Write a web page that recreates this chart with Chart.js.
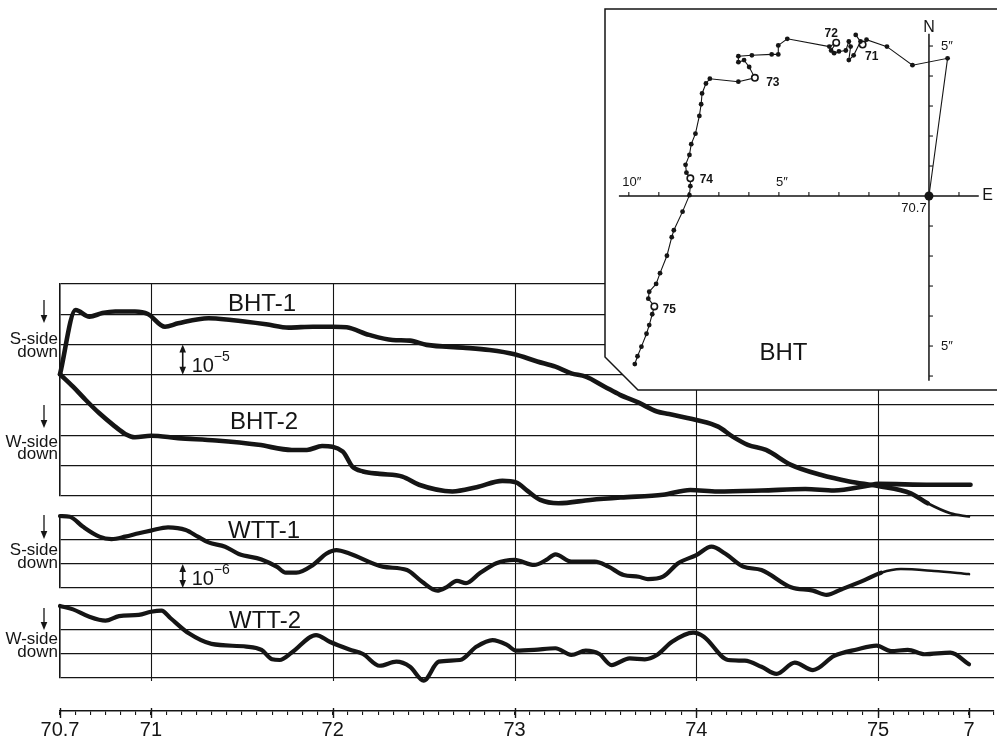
<!DOCTYPE html>
<html>
<head>
<meta charset="utf-8">
<title>BHT / WTT tilt records</title>
<script src="https://cdn.jsdelivr.net/npm/chart.js@4.4.0/dist/chart.umd.min.js"></script>
<style>
  html, body { margin: 0; padding: 0; background: #fff; }
  #wrap { position: relative; width: 997px; height: 745px; overflow: hidden; }
  #mainChart { position: absolute; left: 0; top: 0; }
  #insetChart { position: absolute; left: 600px; top: 0; }
</style>
</head>
<body>
<div id="wrap">
  <canvas id="mainChart" width="997" height="745"></canvas>
  <canvas id="insetChart" width="397" height="395"></canvas>
</div>
<script>
// Time axis: months after 70.7
const yearTickMonths = [0, 6, 18, 30, 42, 54, 60];
const yearTickLabels = ['70.7', '71', '72', '73', '74', '75', '7'];

// BHT-1 (grid divisions below top line, 1 div = 1e-5)
const bht1Months = [0, 1.03, 1.94, 2.8, 3.65, 4.95, 5.8, 6.93, 7.8, 9.8, 11.3, 13.6, 15.1, 16.7, 18, 18.92, 20.4, 21.95, 23.1, 24.2, 26.6, 28.35, 30, 31.5, 32.7, 33.75, 34.7, 35.95, 36.96, 38.2, 39.4, 40.2, 42, 43.44, 44.4, 45.4, 46.6, 48.25, 50.2, 52.1, 54, 56.16, 57.27, 58.77, 60];
const bht1Tilt = [2.98, 0.86, 1.08, 0.96, 0.91, 0.91, 0.99, 1.41, 1.30, 1.13, 1.19, 1.33, 1.44, 1.41, 1.41, 1.43, 1.68, 1.85, 1.87, 2.01, 2.10, 2.18, 2.32, 2.56, 2.73, 2.95, 3.06, 3.39, 3.66, 3.92, 4.21, 4.29, 4.49, 4.71, 5.04, 5.31, 5.48, 5.97, 6.30, 6.52, 6.67, 6.91, 7.24, 7.57, 7.68];

// BHT-2
const bht2Months = [0, 0.86, 1.7, 2.6, 3.5, 4.3, 4.95, 6, 7.8, 10.3, 13.1, 15.3, 16.3, 17.3, 18.66, 19.3, 20, 21.1, 22.6, 23.7, 25.9, 27.5, 29.2, 30.1, 30.9, 31.7, 32.9, 35, 37, 39.8, 41.6, 43.4, 46.3, 49.2, 51.1, 53.3, 54, 57.5, 60.1];
const bht2Tilt = [2.98, 3.39, 3.83, 4.27, 4.65, 4.95, 5.06, 5.01, 5.09, 5.17, 5.31, 5.48, 5.48, 5.35, 5.53, 6.03, 6.19, 6.27, 6.36, 6.63, 6.85, 6.71, 6.50, 6.55, 6.85, 7.13, 7.24, 7.13, 7.05, 6.96, 6.80, 6.85, 6.82, 6.77, 6.82, 6.66, 6.60, 6.63, 6.63];

// WTT-1 (1 div = 1e-6)
const wtt1Months = [0, 0.65, 1.5, 2.6, 3.4, 4.3, 5.2, 6, 7.13, 8.3, 9.1, 9.8, 10.9, 11.8, 13.3, 14.3, 14.9, 15.6, 16.7, 17.6, 18.25, 19.1, 21.3, 22.9, 23.9, 24.9, 25.5, 26.2, 26.8, 27.7, 28.8, 30, 31.3, 32.1, 32.7, 33.75, 35.3, 36.2, 37.2, 38.2, 38.8, 39.8, 40.8, 42, 43, 43.9, 45.1, 46.3, 48.25, 49.7, 50.6, 51.6, 53.1, 54.2, 55.5, 57.7, 60];
const wtt1Tilt = [0, 0.03, 0.44, 0.86, 0.96, 0.86, 0.72, 0.61, 0.47, 0.58, 0.86, 1.10, 1.28, 1.58, 1.81, 2.11, 2.36, 2.36, 2.04, 1.56, 1.42, 1.56, 2.11, 2.25, 2.74, 3.11, 2.97, 2.70, 2.80, 2.39, 1.97, 1.83, 2.04, 1.83, 1.60, 1.90, 1.90, 2.11, 2.46, 2.53, 2.63, 2.53, 1.97, 1.63, 1.28, 1.56, 2.11, 2.25, 2.97, 3.11, 3.29, 3.05, 2.67, 2.36, 2.21, 2.29, 2.42];

// WTT-2
const wtt2Months = [0, 0.86, 1.9, 3, 3.9, 5.2, 6, 6.7, 7.3, 8.5, 10, 12.3, 13.3, 14, 14.5, 15.3, 16.9, 17.8, 19.1, 20, 21.1, 22.2, 23.1, 24, 25, 26.4, 27.5, 28.55, 29.5, 30.1, 31.3, 32.7, 33.75, 34.7, 35.6, 36.4, 37.6, 38.6, 39.4, 40.4, 41.8, 42.5, 44.1, 45.2, 46.3, 47.3, 48.5, 49.7, 51.1, 52.6, 53.9, 54.85, 55.96, 57.07, 58.77, 60];
const wtt2Tilt = [0, 0.14, 0.44, 0.61, 0.42, 0.37, 0.24, 0.19, 0.51, 1.14, 1.58, 1.69, 1.83, 2.22, 2.25, 1.94, 1.21, 1.49, 1.81, 2.0, 2.49, 2.32, 2.53, 3.11, 2.32, 2.25, 1.69, 1.42, 1.62, 1.86, 1.83, 1.76, 2.04, 1.86, 2.0, 2.46, 2.18, 2.22, 2.04, 1.49, 1.11, 1.28, 2.25, 2.28, 2.53, 2.83, 2.36, 2.67, 2.08, 1.81, 1.65, 1.88, 1.83, 2.01, 1.94, 2.43];

// BHT tilt vector path (arcsec, east / north)
const tiltEast = [0, 0.62, -0.55, -1.40, -2.08, -2.21, -2.44, -2.28, -2.51, -2.67, -2.61, -2.67, -2.77, -3.00, -3.16, -3.26, -3.09, -3.32, -4.72, -5.02, -5.02, -5.24, -5.90, -6.35, -6.35, -6.16, -5.99, -5.80, -6.35, -7.30, -7.43, -7.56, -7.59, -7.65, -7.78, -7.92, -7.98, -8.11, -8.08, -7.95, -7.95, -7.98, -8.21, -8.50, -8.57, -8.73, -8.96, -9.09, -9.32, -9.35, -9.15, -9.22, -9.32, -9.41, -9.58, -9.71, -9.80];
const tiltNorth = [0, 4.59, 4.36, 4.98, 5.21, 5.05, 5.37, 5.15, 4.69, 4.53, 4.98, 5.15, 4.85, 4.82, 4.76, 4.85, 5.11, 4.98, 5.24, 5.02, 4.72, 4.72, 4.69, 4.66, 4.46, 4.53, 4.30, 3.94, 3.81, 3.91, 3.75, 3.42, 3.06, 2.67, 2.08, 1.73, 1.37, 1.04, 0.78, 0.59, 0.33, 0.03, -0.52, -1.14, -1.37, -1.99, -2.57, -2.93, -3.19, -3.42, -3.68, -3.94, -4.30, -4.59, -5.02, -5.34, -5.60];
const yearMarkIndex = [5, 16, 27, 39, 50];
const yearMarkLabels = ['71', '72', '73', '74', '75'];

const FONT = "'Liberation Sans', Arial, sans-serif";
const ink = '#151515';

function toPoints(xs, ys) {
    return xs.map((x, i) => ({ x: x, y: ys[i] }));
}

function arrowHead(ctx, x, y, dir) {
    // dir 1 points down, -1 points up
    ctx.beginPath();
    ctx.moveTo(x, y);
    ctx.lineTo(x - 3.3, y - 8 * dir);
    ctx.lineTo(x + 3.3, y - 8 * dir);
    ctx.closePath();
    ctx.fill();
}

// Main chart decorations
const panelTitles = [
    { text: 'BHT-1', x: 262, y: 304 },
    { text: 'BHT-2', x: 264, y: 422 },
    { text: 'WTT-1', x: 264, y: 531 },
    { text: 'WTT-2', x: 265, y: 621 }
];
const sideLabels = [
    { a: 300, b: 323, t1: 'S-side', y1: 339, y2: 352 },
    { a: 405, b: 428, t1: 'W-side', y1: 442, y2: 454 },
    { a: 515, b: 539, t1: 'S-side', y1: 550, y2: 563 },
    { a: 608, b: 630, t1: 'W-side', y1: 639, y2: 652 }
];

const decoPlugin = {
    id: 'deco',
    beforeDatasetsDraw(chart) {
        const { ctx, scales } = chart;
        const top = scales.yB.top;
        const bottom = scales.yW2.bottom + 3;
        const axisY = scales.x.top;
        ctx.save();
        ctx.strokeStyle = ink;
        yearTickMonths.forEach(m => {
            const x = Math.round(scales.x.getPixelForValue(m)) + 0.5;
            if (m > 0 && m < 60) {
                ctx.lineWidth = 1.1;
                ctx.beginPath();
                ctx.moveTo(x, top);
                ctx.lineTo(x, bottom);
                ctx.stroke();
            }
            ctx.lineWidth = 1.4;
            ctx.beginPath();
            ctx.moveTo(x, axisY - 3);
            ctx.lineTo(x, axisY + 7);
            ctx.stroke();
        });
        ctx.restore();
    },
    afterDatasetsDraw(chart) {
        const { ctx, scales } = chart;
        ctx.save();
        ctx.fillStyle = ink;
        ctx.strokeStyle = ink;

        // panel titles
        ctx.font = '24px ' + FONT;
        ctx.textAlign = 'center';
        ctx.textBaseline = 'middle';
        panelTitles.forEach(p => ctx.fillText(p.text, p.x, p.y));

        // side labels with arrows
        sideLabels.forEach(s => {
            ctx.lineWidth = 1.3;
            ctx.beginPath();
            ctx.moveTo(44, s.a);
            ctx.lineTo(44, s.b - 6);
            ctx.stroke();
            arrowHead(ctx, 44, s.b, 1);
            ctx.font = '17px ' + FONT;
            ctx.textAlign = 'right';
            ctx.textBaseline = 'middle';
            ctx.fillText(s.t1, 58, s.y1);
            ctx.fillText('down', 58, s.y2);
        });

        // scale bars: one grid division
        const bars = [
            { axis: scales.yB, from: 2, to: 3, exp: '\u22125' },
            { axis: scales.yW1, from: 2, to: 3, exp: '\u22126' }
        ];
        bars.forEach(b => {
            const x = scales.x.getPixelForValue(8.1);
            const y1 = b.axis.getPixelForValue(b.from);
            const y2 = b.axis.getPixelForValue(b.to);
            ctx.lineWidth = 1.6;
            ctx.beginPath();
            ctx.moveTo(x, y1 + 5);
            ctx.lineTo(x, y2 - 5);
            ctx.stroke();
            arrowHead(ctx, x, y1, -1);
            arrowHead(ctx, x, y2, 1);
            ctx.textAlign = 'left';
            ctx.textBaseline = 'alphabetic';
            ctx.font = '20px ' + FONT;
            ctx.fillText('10', x + 9, y2 - 3);
            ctx.font = '14px ' + FONT;
            ctx.fillText(b.exp, x + 31, y2 - 14);
        });
        ctx.restore();
    }
};

function panelAxis(weight, height, max) {
    return {
        type: 'linear',
        position: 'left',
        stack: 'panels',
        stackWeight: height,
        weight: weight,
        reverse: true,
        min: 0,
        max: max,
        ticks: { display: false, stepSize: 1 },
        grid: { color: ink, lineWidth: 1.3, drawTicks: false },
        border: { display: true, color: ink, width: 1.6 },
        afterFit: s => { s.width = 0; }
    };
}

function gapAxis(weight, height) {
    return {
        type: 'linear',
        position: 'left',
        stack: 'panels',
        stackWeight: height,
        weight: weight,
        min: 0,
        max: 1,
        ticks: { display: false },
        grid: { display: false, drawTicks: false },
        border: { display: false },
        afterFit: s => { s.width = 0; }
    };
}

function curve(data, axisId, width, thinFrom) {
    return {
        data: data,
        yAxisID: axisId,
        borderColor: ink,
        borderWidth: width,
        pointRadius: 0,
        clip: false,
        cubicInterpolationMode: 'monotone',
        borderCapStyle: 'round',
        borderJoinStyle: 'round',
        segment: {
            borderWidth: ctx => (thinFrom !== null && ctx.p0.parsed.x >= thinFrom) ? 2.6 : width
        }
    };
}

new Chart(document.getElementById('mainChart'), {
    type: 'line',
    data: {
        datasets: [
            curve(toPoints(bht1Months, bht1Tilt), 'yB', 4.6, 57),
            curve(toPoints(bht2Months, bht2Tilt), 'yB', 4.6, null),
            curve(toPoints(wtt1Months, wtt1Tilt), 'yW1', 4.2, 54),
            curve(toPoints(wtt2Months, wtt2Tilt), 'yW2', 4.2, null)
        ]
    },
    options: {
        responsive: false,
        animation: false,
        devicePixelRatio: 1,
        layout: { padding: { top: 284, left: 60, right: 0, bottom: 0 } },
        plugins: { legend: { display: false }, tooltip: { enabled: false } },
        scales: {
            x: {
                type: 'linear',
                position: 'bottom',
                min: 0,
                max: 61.65,
                border: { display: true, color: ink, width: 1.6 },
                grid: { drawOnChartArea: false, drawTicks: true, tickLength: 4, color: ink, lineWidth: 1.1 },
                ticks: {
                    stepSize: 1,
                    autoSkip: false,
                    maxRotation: 0,
                    padding: 3,
                    color: ink,
                    font: { family: FONT, size: 20 },
                    callback: v => {
                        const i = yearTickMonths.indexOf(v);
                        return i >= 0 ? yearTickLabels[i] : '';
                    }
                },
                afterFit: s => { s.height = 34; }
            },
            yB: panelAxis(6, 212, 7),
            gap1: gapAxis(5, 20),
            yW1: panelAxis(4, 72, 3),
            gap2: gapAxis(3, 18),
            yW2: panelAxis(2, 72, 3),
            gap3: gapAxis(1, 33)
        }
    },
    plugins: [decoPlugin]
});

// Inset: BHT tilt vector
const insetPlugin = {
    id: 'insetFrame',
    beforeDraw(chart) {
        const ctx = chart.ctx;
        ctx.save();
        ctx.beginPath();
        ctx.moveTo(5, 9);
        ctx.lineTo(400, 9);
        ctx.lineTo(400, 390);
        ctx.lineTo(38, 390);
        ctx.lineTo(5, 357);
        ctx.closePath();
        ctx.fillStyle = '#fff';
        ctx.fill();
        ctx.strokeStyle = ink;
        ctx.lineWidth = 1.5;
        ctx.stroke();
        ctx.restore();
    },
    beforeDatasetsDraw(chart) {
        const { ctx, scales } = chart;
        const xs = scales.x, ys = scales.y;
        const ox = xs.getPixelForValue(0), oy = ys.getPixelForValue(0);
        ctx.save();
        ctx.strokeStyle = ink;
        ctx.fillStyle = ink;
        ctx.lineWidth = 1.5;
        ctx.beginPath();
        ctx.moveTo(xs.getPixelForValue(-10.33), oy);
        ctx.lineTo(xs.getPixelForValue(1.66), oy);
        ctx.moveTo(ox, ys.getPixelForValue(5.41));
        ctx.lineTo(ox, ys.getPixelForValue(-6.16));
        ctx.stroke();
        ctx.lineWidth = 1.1;
        for (let k = -10; k <= 1; k++) {
            const x = xs.getPixelForValue(k);
            ctx.beginPath();
            ctx.moveTo(x, oy);
            ctx.lineTo(x, oy - 4);
            ctx.stroke();
        }
        for (let k = -6; k <= 5; k++) {
            const y = ys.getPixelForValue(k);
            ctx.beginPath();
            ctx.moveTo(ox, y);
            ctx.lineTo(ox + 4, y);
            ctx.stroke();
        }
        ctx.font = '13px ' + FONT;
        ctx.textAlign = 'center';
        ctx.textBaseline = 'middle';
        ctx.fillText('10\u2033', xs.getPixelForValue(-10) + 3, oy - 14);
        ctx.fillText('5\u2033', xs.getPixelForValue(-5) + 3, oy - 14);
        ctx.fillText('5\u2033', ox + 18, ys.getPixelForValue(5));
        ctx.fillText('5\u2033', ox + 18, ys.getPixelForValue(-5));
        ctx.fillText('70.7', ox - 15, oy + 12);
        ctx.font = '16px ' + FONT;
        ctx.fillText('N', ox, ys.getPixelForValue(5.62));
        ctx.fillText('E', xs.getPixelForValue(1.95), oy);
        ctx.font = '24px ' + FONT;
        ctx.fillText('BHT', xs.getPixelForValue(-4.85), ys.getPixelForValue(-5.24));
        ctx.restore();
    },
    afterDatasetsDraw(chart) {
        const { ctx } = chart;
        const meta = chart.getDatasetMeta(0);
        const offsets = [[9, 12], [-5, -9], [18, 5], [16, 1], [15, 3]];
        ctx.save();
        ctx.fillStyle = ink;
        ctx.font = 'bold 12px ' + FONT;
        ctx.textAlign = 'center';
        ctx.textBaseline = 'middle';
        yearMarkIndex.forEach((idx, i) => {
            const p = meta.data[idx];
            ctx.fillText(yearMarkLabels[i], p.x + offsets[i][0], p.y + offsets[i][1]);
        });
        ctx.restore();
    }
};

new Chart(document.getElementById('insetChart'), {
    type: 'line',
    data: {
        datasets: [{
            data: toPoints(tiltEast, tiltNorth),
            borderColor: ink,
            borderWidth: 1.1,
            tension: 0,
            pointBorderColor: ink,
            pointRadius: ctx => ctx.dataIndex === 0 ? 4.5 : (yearMarkIndex.includes(ctx.dataIndex) ? 3.2 : 2.4),
            pointBackgroundColor: ctx => yearMarkIndex.includes(ctx.dataIndex) ? '#fff' : ink,
            pointBorderWidth: ctx => yearMarkIndex.includes(ctx.dataIndex) ? 1.6 : 0
        }]
    },
    options: {
        responsive: false,
        animation: false,
        devicePixelRatio: 1,
        layout: { padding: 0 },
        plugins: { legend: { display: false }, tooltip: { enabled: false } },
        scales: {
            x: { type: 'linear', min: -10.81, max: 2.117, display: false },
            y: { type: 'linear', min: -6.482, max: 6.384, display: false }
        }
    },
    plugins: [insetPlugin]
});
</script>
</body>
</html>
